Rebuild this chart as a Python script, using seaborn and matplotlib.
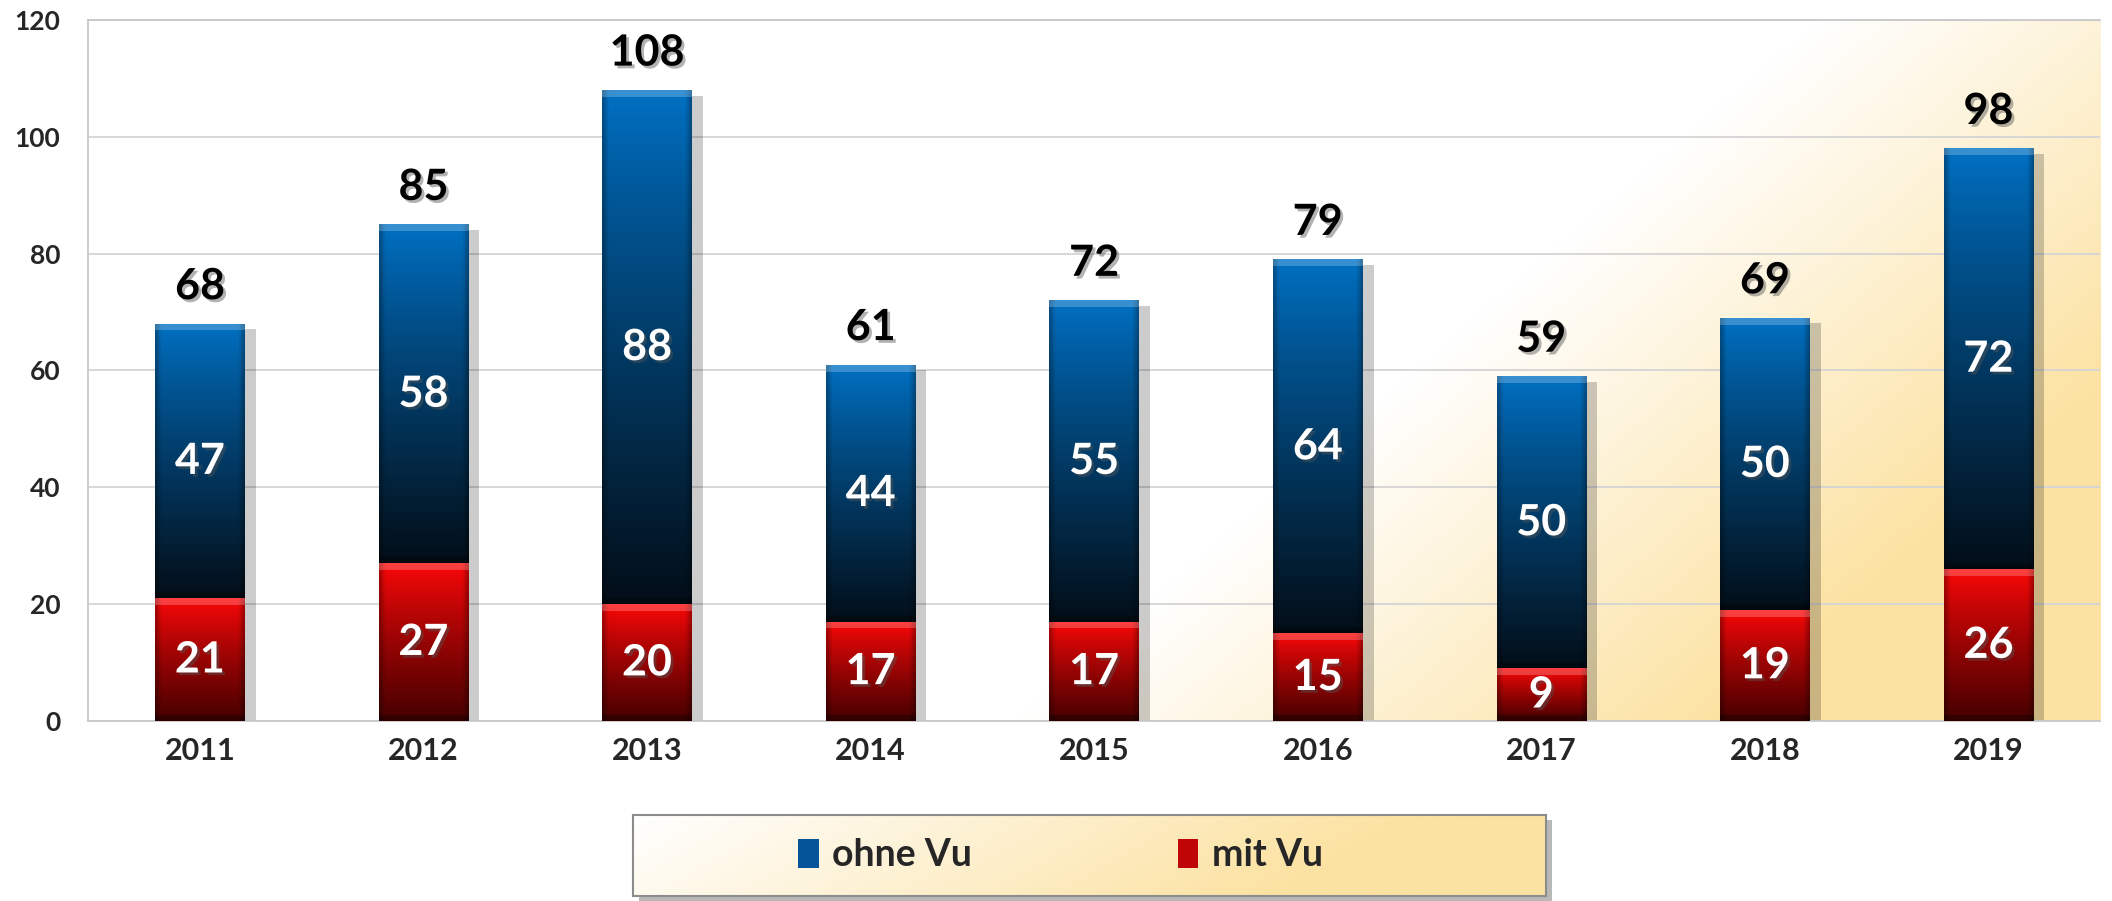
import numpy as np
import pandas as pd
import seaborn as sns
import matplotlib.pyplot as plt
from matplotlib import patheffects as pe
from matplotlib.patches import Patch, Rectangle

# Data
years = ["2011", "2012", "2013", "2014", "2015", "2016", "2017", "2018", "2019"]
ohne_vu = [47, 58, 88, 44, 55, 64, 50, 50, 72]
mit_vu = [21, 27, 20, 17, 17, 15, 9, 19, 26]

df = pd.DataFrame({"Jahr": years, "ohne Vu": ohne_vu, "mit Vu": mit_vu})
df["Gesamt"] = df["ohne Vu"] + df["mit Vu"]

sns.set_style("whitegrid")
plt.rcParams["font.family"] = ["Lato", "DejaVu Sans"]
plt.rcParams["font.weight"] = "bold"

BLUE_TOP = np.array([0, 114, 198]) / 255
BLUE_BOT = np.array([3, 14, 24]) / 255
RED_TOP = np.array([255, 8, 8]) / 255
RED_BOT = np.array([70, 0, 0]) / 255
YELLOW = np.array([252, 226, 162]) / 255


def bar_image(top, bottom, rows):
    rows = max(int(rows), 12)
    v = np.linspace(0, 1, rows)[:, None, None]
    t = v ** 0.85
    col = (1 - t) * top + t * bottom
    col = np.repeat(col, 64, axis=1)
    h = np.linspace(0, 1, 64)[None, :, None]
    side = np.clip(np.minimum(h, 1 - h) / 0.07, 0, 1)
    col = col * (0.7 + 0.3 * side)
    # bevel: light strip at the top, dark strip at the bottom
    r = np.arange(rows)[:, None, None]
    col = np.where(r < 7, col + (1 - col) * 0.22, col)
    col = np.where(r >= rows - 6, col * 0.7, col)
    return np.clip(col, 0, 1)


def diag_gradient(nx, ny, a, b, k):
    # white toward the upper left, yellow toward the lower right
    x = np.linspace(0, 1, nx)[None, :]
    y = np.linspace(1, 0, ny)[:, None]
    s = x - k * y
    t = np.clip((s - a) / b, 0, 1)[..., None]
    return (1 - t) * np.ones(3) + t * YELLOW


fig = plt.figure(figsize=(21.12, 9.01), dpi=100)
ax = fig.add_axes([0.0417, 0.2, 0.9527, 0.7778])

sns.barplot(data=df, x="Jahr", y="Gesamt", color=BLUE_TOP, width=0.4,
            linewidth=0, zorder=2, ax=ax)
sns.barplot(data=df, x="Jahr", y="mit Vu", color=RED_TOP, width=0.4,
            linewidth=0, zorder=3, ax=ax)

ax.set_xlim(-0.5, 8.5)
ax.set_ylim(0, 120)
ax.set_yticks(range(0, 121, 20))
ax.set_xlabel("")
ax.set_ylabel("")

# background gradient
ax.imshow(diag_gradient(400, 200, 0.46, 0.35, 0.4), extent=(-0.5, 8.5, 0, 120),
          aspect="auto", zorder=0)
ax.set_axisbelow(True)
ax.grid(axis="y", color="#d4d4d4", linewidth=1.3)
ax.grid(axis="x", visible=False)
for side in ["left", "bottom", "top"]:
    ax.spines[side].set_color("#c8c8c8")
    ax.spines[side].set_linewidth(1.3)
ax.spines["right"].set_visible(False)
ax.tick_params(axis="y", labelsize=19, pad=20, length=0)
ax.tick_params(axis="x", labelsize=22, pad=12, length=0)
for lab in ax.get_xticklabels() + ax.get_yticklabels():
    lab.set_fontweight("bold")

px_per_unit = 700 / 120
blue_bars = ax.patches[:9]
red_bars = ax.patches[9:18]
txt_shadow = [pe.withSimplePatchShadow(offset=(2, -2), shadow_rgbFace="#555555", alpha=0.45)]

for i, (bb, rb) in enumerate(zip(blue_bars, red_bars)):
    x0 = bb.get_x()
    x1 = x0 + bb.get_width()
    total = bb.get_height()
    red = rb.get_height()
    bb.set_path_effects([pe.SimplePatchShadow(offset=(8, -4), shadow_rgbFace="#000000", alpha=0.2),
                         pe.Normal()])
    im = ax.imshow(bar_image(BLUE_TOP, BLUE_BOT, (total - red) * px_per_unit),
                   extent=(x0, x1, red, total), aspect="auto", zorder=2.5)
    im.set_clip_path(bb)
    im = ax.imshow(bar_image(RED_TOP, RED_BOT, red * px_per_unit),
                   extent=(x0, x1, 0, red), aspect="auto", zorder=3.5)
    im.set_clip_path(rb)

    xc = x0 + bb.get_width() / 2
    ax.annotate(f"{int(total)}", (xc, total), xytext=(0, 27), textcoords="offset points",
                ha="center", va="center", fontsize=31, fontweight="bold", color="black",
                zorder=6, path_effects=txt_shadow)
    ax.text(xc, red + (total - red) / 2, f"{int(total - red)}", ha="center", va="center",
            fontsize=31, fontweight="bold", color="white", zorder=6, path_effects=txt_shadow)
    ax.text(xc, red / 2, f"{int(red)}", ha="center", va="center",
            fontsize=31, fontweight="bold", color="white", zorder=6, path_effects=txt_shadow)

# legend box
leg_rect = [633 / 2112, 1 - 896 / 901, 913 / 2112, 81 / 901]
fig.add_artist(Rectangle((leg_rect[0] + 6 / 2112, leg_rect[1] - 5 / 901), leg_rect[2], leg_rect[3],
                         transform=fig.transFigure, facecolor="#8a8a8a", alpha=0.6,
                         edgecolor="none", zorder=-1))
ax_leg = fig.add_axes(leg_rect)
ax_leg.imshow(diag_gradient(300, 40, -0.15, 0.85, 0.15), extent=(0, 1, 0, 1), aspect="auto")
ax_leg.set_xlim(0, 1)
ax_leg.set_ylim(0, 1)
ax_leg.set_xticks([])
ax_leg.set_yticks([])
ax_leg.grid(False)
for side in ax_leg.spines.values():
    side.set_color("#8c8c8c")
    side.set_linewidth(1.5)

handles = [Patch(facecolor=(0.02, 0.33, 0.6), edgecolor="none", label="ohne Vu"),
           Patch(facecolor=(0.75, 0.02, 0.02), edgecolor="none", label="mit Vu")]
ax_leg.legend(handles=handles, loc="center", bbox_to_anchor=(0.468, 0.5), ncol=2, frameon=False,
              prop={"size": 27, "weight": "bold"}, handlelength=0.55, handleheight=0.8,
              handletextpad=0.35, columnspacing=5.5)

fig.savefig("out.png", dpi=100)
plt.close(fig)
